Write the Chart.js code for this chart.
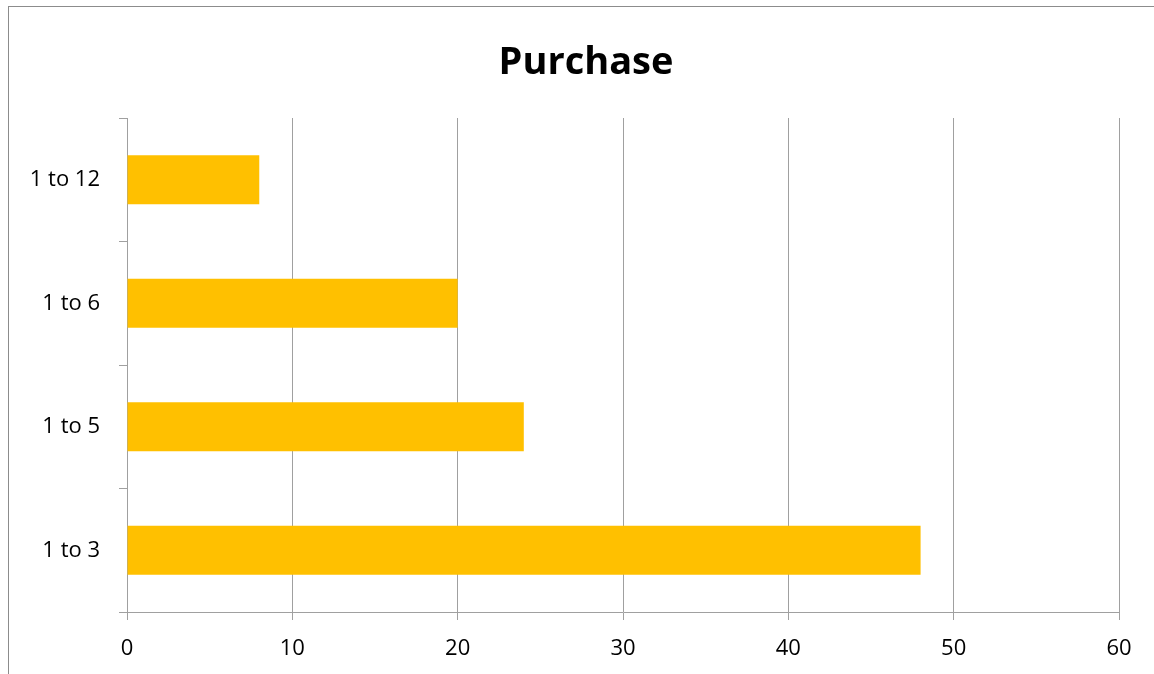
<!DOCTYPE html>
<html>
<head>
<meta charset="utf-8">
<script src="https://cdn.jsdelivr.net/npm/chart.js@4/dist/chart.umd.min.js"></script>
<style>
  html, body { margin: 0; padding: 0; background: #fff; overflow: hidden; }
  #frame { position: absolute; left: 8px; top: 6px; width: 1200px; height: 720px; border: 1px solid #8c8c8c; box-sizing: border-box; }
  #c { position: absolute; left: 0; top: 0; }
</style>
</head>
<body>
<div id="frame"></div>
<canvas id="c" width="1154" height="674"></canvas>
<script>
const categories = ['1 to 12', '1 to 6', '1 to 5', '1 to 3'];
const purchaseValues = [8, 20, 24, 48];
const xTicks = [0, 10, 20, 30, 40, 50, 60];
const chartTitle = 'Purchase';

const FONT = '"Open Sans", Lato, "Liberation Sans", sans-serif';
const GRID = '#a0a0a0';

const titlePlugin = {
  id: 'centeredTitle',
  afterDraw(chart) {
    const ctx = chart.ctx;
    ctx.save();
    ctx.font = 'bold 38px ' + FONT;
    ctx.fillStyle = '#000';
    ctx.textAlign = 'center';
    ctx.textBaseline = 'alphabetic';
    ctx.fillText(chartTitle, 586, 74);
    ctx.restore();
  }
};

new Chart(document.getElementById('c'), {
  type: 'bar',
  data: {
    labels: categories,
    datasets: [{
      label: chartTitle,
      data: purchaseValues,
      backgroundColor: '#FFC000',
      borderWidth: 0,
      categoryPercentage: 1,
      barPercentage: 0.397
    }]
  },
  plugins: [titlePlugin],
  options: {
    indexAxis: 'y',
    responsive: false,
    animation: false,
    layout: { padding: { left: 0, right: 35, top: 118, bottom: 0 } },
    plugins: {
      legend: { display: false },
      tooltip: { enabled: false },
      title: { display: false }
    },
    scales: {
      x: {
        min: xTicks[0],
        max: xTicks[xTicks.length - 1],
        afterBuildTicks: (s) => { s.ticks = xTicks.map(v => ({ value: v })); },
        afterFit: (s) => { s.height = 62; },
        grid: { color: GRID, lineWidth: 1, tickLength: 8, drawTicks: true },
        border: { color: GRID, width: 1 },
        ticks: { color: '#000', padding: 16, font: { family: FONT, size: 22 } }
      },
      y: {
        afterFit: (s) => { s.width = 127; },
        grid: { color: GRID, lineWidth: 1, tickLength: 8, drawOnChartArea: false, drawTicks: true, offset: true },
        border: { color: GRID, width: 1 },
        ticks: { color: '#000', padding: 19, font: { family: FONT, size: 22 } }
      }
    }
  }
});
</script>
</body>
</html>
